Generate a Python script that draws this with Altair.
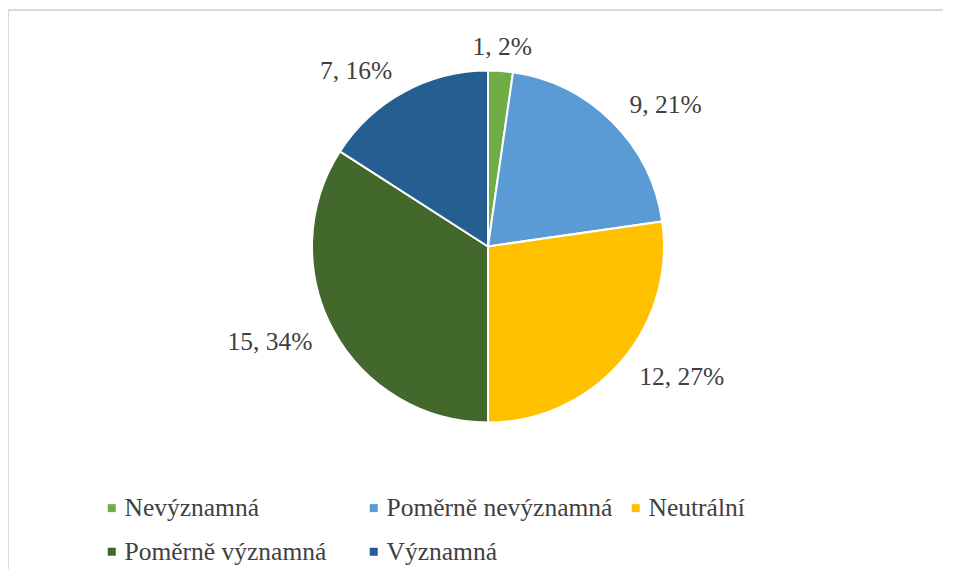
import altair as alt
import pandas as pd

categories = ["Nevýznamná", "Poměrně nevýznamná", "Neutrální", "Poměrně významná", "Významná"]
counts = [1, 9, 12, 15, 7]
percents = [2, 21, 27, 34, 16]
colors = ["#70ad47", "#5b9bd5", "#ffc000", "#43682b", "#255e91"]

df = pd.DataFrame({
    "kategorie": categories,
    "pocet": counts,
    "pct": percents,
    "poradi": list(range(len(categories))),
})
df["popisek"] = [f"{c}, {p}%" for c, p in zip(counts, percents)]

W, H = 935, 560
CX, CY, R, RL = 480, 237.5, 176, 200
FONT = "Liberation Serif"
FS = 25.5

base = alt.Chart(df)

color = alt.Color(
    "kategorie:N",
    scale=alt.Scale(domain=categories, range=colors),
    sort=categories,
    legend=alt.Legend(
        title=None,
        orient="none",
        direction="horizontal",
        legendX=91,
        legendY=486,
        columns=3,
        gridAlign="all",
        columnPadding=10,
        rowPadding=17,
        symbolType="square",
        symbolSize=64,
        symbolStrokeWidth=0,
        labelFont=FONT,
        labelFontSize=FS,
        labelColor="#404040",
        labelOffset=0,
        padding=0,
        labelLimit=400,
    ),
)

pie = base.mark_arc(radius=R, stroke="white", strokeWidth=2).encode(
    theta=alt.Theta("pocet:Q", stack=True),
    color=color,
    order=alt.Order("poradi:Q"),
    x=alt.value(CX),
    y=alt.value(CY),
)

lab = (
    base.transform_joinaggregate(total="sum(pocet)")
    .transform_window(cum="sum(pocet)", sort=[alt.SortField("poradi")], frame=[None, 0])
    .transform_calculate(mid="(datum.cum - datum.pocet/2) / datum.total * 2 * PI")
    .transform_calculate(
        lx=f"{CX} + {RL} * sin(datum.mid)",
        ly=f"{CY} - {RL} * cos(datum.mid)",
        s="sin(datum.mid)",
    )
)

def text_layer(cond, align):
    return lab.transform_filter(cond).mark_text(
        font=FONT, fontSize=FS, color="#404040", align=align, baseline="middle"
    ).encode(
        x=alt.X("lx:Q", scale=None),
        y=alt.Y("ly:Q", scale=None),
        text="popisek:N",
    )

labels = (
    text_layer("datum.s > 0.3", "left")
    + text_layer("datum.s < -0.3", "right")
    + text_layer("datum.s >= -0.3 && datum.s <= 0.3", "center")
)

border_top = alt.Chart(pd.DataFrame({"a": [0]})).mark_rule(color="#d9d9d9", strokeWidth=2).encode(
    x=alt.value(0), x2=alt.value(W + 20), y=alt.value(1)
)
border_left = alt.Chart(pd.DataFrame({"a": [0]})).mark_rule(color="#d9d9d9", strokeWidth=2).encode(
    x=alt.value(0), y=alt.value(1), y2=alt.value(H + 20)
)

chart = (
    alt.layer(border_top, border_left, pie, labels)
    .properties(width=W, height=H, padding={"left": 0, "top": 1, "right": 0, "bottom": 0},
                autosize=alt.AutoSizeParams(type="none"))
    .configure_view(strokeWidth=0, stroke="transparent")
    .configure(background="white")
)

chart.save("out.html", embed_options={"renderer": "svg", "actions": False})
